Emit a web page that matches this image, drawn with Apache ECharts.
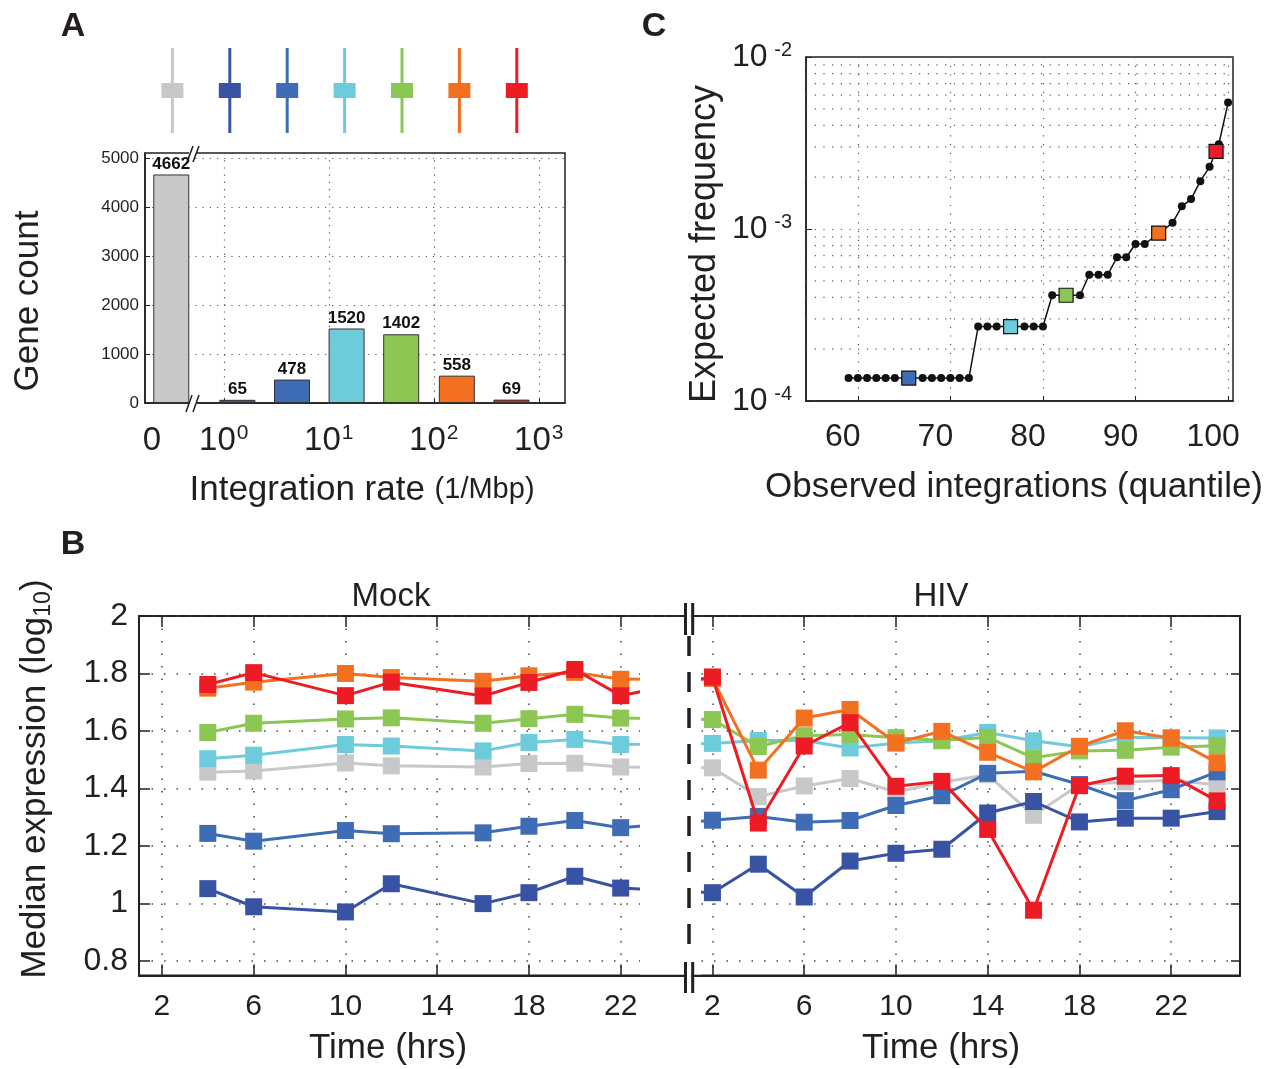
<!DOCTYPE html>
<html><head><meta charset="utf-8">
<script src="https://cdn.jsdelivr.net/npm/echarts@6/dist/echarts.min.js"></script>
<style>html,body{margin:0;padding:0;background:#fff}#c{width:1282px;height:1069px}</style>
</head><body><div id="c"></div>
<script>
const FONT = '"Liberation Sans", Arial, Helvetica, sans-serif';
const INK = '#231f20';

// ---------- Panel A data ----------
const rateBinLog = [-0.5, 0.13, 0.65, 1.17, 1.69, 2.22, 2.74];   // bin centre, log10(1/Mbp); first bin = zero rate
const geneCounts = [4662, 65, 478, 1520, 1402, 558, 69];
const rateTickLog = [0, 1, 2, 3];
const zeroRateLabelPos = -0.685;
const classIds = [0, 1, 2, 3, 4, 5, 6];
const classColors = ['#c7c8ca', '#3953a4', '#3e6db5', '#6dcbdb', '#8cc653', '#f37021', '#ed1c24'];

// ---------- Panel B data ----------
const mockHours = [4, 6, 10, 12, 16, 18, 20, 22];
const hivHours = [2, 4, 6, 8, 10, 12, 14, 16, 18, 20, 22, 24];
const timeTicks = [2, 6, 10, 14, 18, 22];
const exprTicks = [0.8, 1.0, 1.2, 1.4, 1.6, 1.8, 2.0];
const mockGray     = [1.457, 1.461, 1.489, 1.479, 1.475, 1.487, 1.488, 1.475];
const mockDarkBlue = [1.052, 0.989, 0.971, 1.069, 1.000, 1.038, 1.095, 1.054];
const mockBlue     = [1.244, 1.217, 1.254, 1.243, 1.246, 1.269, 1.289, 1.264];
const mockCyan     = [1.504, 1.516, 1.553, 1.548, 1.531, 1.560, 1.571, 1.553];
const mockGreen    = [1.595, 1.627, 1.642, 1.646, 1.627, 1.643, 1.658, 1.645];
const mockOrange   = [1.749, 1.770, 1.800, 1.786, 1.773, 1.792, 1.804, 1.780];
const mockRed      = [1.762, 1.803, 1.723, 1.770, 1.722, 1.769, 1.814, 1.723];
const hivGray      = [1.472, 1.372, 1.409, 1.435, 1.388, 1.422, 1.448, 1.307, 1.413, 1.423, 1.429, 1.413];
const hivDarkBlue  = [1.038, 1.137, 1.023, 1.148, 1.175, 1.189, 1.315, 1.355, 1.284, 1.297, 1.297, 1.320];
const hivBlue      = [1.290, 1.303, 1.283, 1.289, 1.341, 1.375, 1.453, 1.460, 1.414, 1.358, 1.396, 1.458];
const hivCyan      = [1.557, 1.567, 1.567, 1.541, 1.558, 1.566, 1.595, 1.566, 1.545, 1.578, 1.577, 1.576];
const hivGreen     = [1.640, 1.546, 1.584, 1.588, 1.577, 1.567, 1.578, 1.507, 1.531, 1.533, 1.544, 1.549];
const hivOrange    = [1.783, 1.464, 1.645, 1.675, 1.559, 1.599, 1.526, 1.458, 1.547, 1.601, 1.575, 1.490];
const hivRed       = [1.788, 1.280, 1.548, 1.629, 1.408, 1.425, 1.258, 0.977, 1.410, 1.443, 1.445, 1.357];

// ---------- Panel C data ----------
const obsQuantile = [59, 60, 61, 62, 63, 64, 67, 68, 69, 70, 71, 72,
                     73, 74, 75, 78, 79, 80, 81, 84, 85, 86, 87, 88, 89, 90, 91,
                     94, 95, 96, 97, 98, 99, 100];
const expFreq = [1.36e-4, 1.36e-4, 1.36e-4, 1.36e-4, 1.36e-4, 1.36e-4, 1.36e-4, 1.36e-4, 1.36e-4, 1.36e-4, 1.36e-4, 1.36e-4,
                 2.71e-4, 2.71e-4, 2.71e-4, 2.71e-4, 2.71e-4, 2.71e-4, 4.12e-4, 4.12e-4, 5.42e-4, 5.42e-4, 5.42e-4, 6.85e-4, 6.85e-4, 8.18e-4, 8.18e-4,
                 1.086e-3, 1.355e-3, 1.493e-3, 1.896e-3, 2.30e-3, 3.11e-3, 5.43e-3];
const classQuantile = [65.5, 76.5, 82.5, 92.5, 98.7];
const classFreq = [1.36e-4, 2.71e-4, 4.12e-4, 9.47e-4, 2.83e-3];
const classOfMarker = [2, 3, 4, 5, 6];
const quantileTicks = [60, 70, 80, 90, 100];
const freqMinorTicks = [2e-4, 3e-4, 4e-4, 5e-4, 6e-4, 7e-4, 8e-4, 9e-4, 2e-3, 3e-3, 4e-3, 5e-3, 6e-3, 7e-3, 8e-3, 9e-3];

const HIV_OFFSET = 24; // HIV hours are drawn after the axis break
const mockSets = [mockGray, mockDarkBlue, mockBlue, mockCyan, mockGreen, mockOrange, mockRed];
const hivSets = [hivGray, hivDarkBlue, hivBlue, hivCyan, hivGreen, hivOrange, hivRed];

const dotted = (c, w, d) => ({ show: true, lineStyle: { color: c, width: w, type: d } });
const supRich = (big, small) => ({
  b: { fontFamily: FONT, fontSize: big, color: INK, lineHeight: big + 2 },
  s: { fontFamily: FONT, fontSize: small, color: INK, verticalAlign: 'top', lineHeight: small, padding: [0, 0, 0, 1] }
});

const bSeries = classIds.map(k => ({
  type: 'line', xAxisIndex: 3, yAxisIndex: 3,
  data: mockHours.map((h, i) => [h, mockSets[k][i]]).concat(hivHours.map((h, i) => [h + HIV_OFFSET, hivSets[k][i]])),
  symbol: 'rect', symbolSize: 17, showSymbol: true,
  lineStyle: { color: classColors[k], width: 3 },
  itemStyle: { color: classColors[k], opacity: 1 },
  z: 3 + k * 0.01, silent: true
}));

const option = {
  animation: false,
  backgroundColor: '#fff',
  textStyle: { fontFamily: FONT },
  grid: [
    { left: 145, top: 153, width: 420, height: 250, show: true, borderColor: INK, borderWidth: 1.5, outerBoundsMode: 'none' },
    { left: 143.7, top: 48, width: 401.8, height: 85, outerBoundsMode: 'none' },
    { left: 806, top: 57, width: 427, height: 344, show: true, borderColor: INK, borderWidth: 1.5, outerBoundsMode: 'none' },
    { left: 139, top: 616, width: 1101, height: 359.5, show: true, borderColor: INK, borderWidth: 2, outerBoundsMode: 'none' }
  ],
  xAxis: [
    { gridIndex: 0, type: 'value', min: -0.75, max: 3.25,
      axisLine: { show: true, onZero: false, lineStyle: { color: INK, width: 1.5 } },
      axisTick: { show: true, inside: true, length: 4, customValues: rateTickLog, lineStyle: { color: INK } },
      axisLabel: { customValues: [zeroRateLabelPos].concat(rateTickLog), margin: 20, rich: supRich(33, 21),
        formatter: v => v < -0.5 ? '{b|0}' : '{b|10}{s|' + Math.round(v) + '}' },
      splitLine: dotted('#555', 1.2, [1.2, 6]) },
    { gridIndex: 1, type: 'category', data: classIds, show: false, boundaryGap: true },
    { gridIndex: 2, type: 'value', min: 54.4, max: 100.53,
      axisLine: { show: true, onZero: false, lineStyle: { color: INK, width: 1.5 } },
      axisTick: { show: true, inside: true, length: 5, customValues: quantileTicks, lineStyle: { color: INK } },
      axisLabel: { customValues: quantileTicks, margin: 20, fontSize: 32, color: INK, fontFamily: FONT, padding: [0, 30, 0, 0] },
      splitLine: dotted('#555', 1.2, [1.2, 7.5]) },
    { gridIndex: 3, type: 'value', min: 1, max: 49,
      axisLine: { show: true, onZero: false, lineStyle: { color: INK, width: 2 } },
      axisTick: { show: true, inside: true, length: 11, customValues: timeTicks.concat(timeTicks.map(t => t + HIV_OFFSET)), lineStyle: { color: INK, width: 1.5 } },
      axisLabel: { customValues: timeTicks.concat(timeTicks.map(t => t + HIV_OFFSET)), margin: 16, fontSize: 30, color: INK, fontFamily: FONT,
        formatter: v => String(v > HIV_OFFSET ? v - HIV_OFFSET : v) },
      splitLine: dotted('#444', 1.5, [1.5, 11]) },
    { gridIndex: 3, type: 'value', min: 1, max: 49, position: 'top',
      axisLine: { show: false, onZero: false },
      axisTick: { show: true, inside: true, length: 11, customValues: timeTicks.concat(timeTicks.map(t => t + HIV_OFFSET)), lineStyle: { color: INK, width: 1.5 } },
      axisLabel: { show: false }, splitLine: { show: false } }
  ],
  yAxis: [
    { gridIndex: 0, type: 'value', min: 0, max: 5100, interval: 1000,
      axisLine: { show: true, onZero: false, lineStyle: { color: INK, width: 1.5 } },
      axisTick: { show: true, inside: true, length: 5, lineStyle: { color: INK } },
      axisLabel: { fontSize: 17, color: INK, fontFamily: FONT, margin: 6, showMaxLabel: false,
        formatter: v => v > 5000 ? '' : String(v) },
      splitLine: dotted('#555', 1.2, [1.2, 6]) },
    { gridIndex: 1, type: 'value', min: 0, max: 1, show: false },
    { gridIndex: 2, type: 'log', logBase: 10, min: 1e-4, max: 1e-2,
      axisLine: { show: true, onZero: false, lineStyle: { color: INK, width: 1.5 } },
      axisTick: { show: true, inside: true, length: 6, lineStyle: { color: INK } },
      axisLabel: { margin: 14, rich: supRich(32, 20),
        formatter: v => '{b|10}{s| ' + Math.round(Math.log10(v)) + '}' },
      splitLine: dotted('#555', 1.2, [1.2, 7.5]) },
    { gridIndex: 3, type: 'value', min: 0.75, max: 2,
      axisLine: { show: true, onZero: false, lineStyle: { color: INK, width: 2 } },
      axisTick: { show: true, inside: true, length: 11, customValues: exprTicks, lineStyle: { color: INK, width: 1.5 } },
      axisLabel: { customValues: exprTicks, margin: 11, fontSize: 32, color: INK, fontFamily: FONT,
        formatter: v => String(Math.round(v * 10) / 10) },
      splitLine: dotted('#444', 1.5, [1.5, 11]) },
    { gridIndex: 3, type: 'value', min: 0.75, max: 2, position: 'right',
      axisLine: { show: false, onZero: false },
      axisTick: { show: true, inside: true, length: 9, customValues: exprTicks, lineStyle: { color: INK, width: 1.5 } },
      axisLabel: { show: false }, splitLine: { show: false } }
  ],
  series: [
    { type: 'bar', xAxisIndex: 0, yAxisIndex: 0, barWidth: 36, silent: true,
      data: rateBinLog.map((u, i) => ({ value: [u, geneCounts[i]], itemStyle: { color: classColors[i], borderColor: '#333', borderWidth: 1 } })),
      label: { show: true, position: 'top', distance: 2, fontFamily: FONT, fontSize: 17, fontWeight: 'bold', color: '#111',
        formatter: p => String(p.value[1]) } },
    { type: 'custom', xAxisIndex: 1, yAxisIndex: 1, silent: true,
      data: classIds.map(k => [k]),
      encode: { x: 0 },
      renderItem: (params, api) => {
        const k = api.value(0);
        const top = api.coord([k, 1]), bot = api.coord([k, 0]), mid = api.coord([k, 0.5]);
        const c = classColors[params.dataIndex];
        return { type: 'group', children: [
          { type: 'line', shape: { x1: top[0], y1: top[1], x2: bot[0], y2: bot[1] }, style: { stroke: c, lineWidth: 3 } },
          { type: 'rect', shape: { x: mid[0] - 11, y: mid[1] - 7.5, width: 22, height: 15 }, style: { fill: c } }
        ] };
      } },
    // minor log gridlines of panel C
    { type: 'custom', xAxisIndex: 2, yAxisIndex: 2, silent: true, z: 1,
      data: freqMinorTicks.map(v => [60, v]),
      encode: { x: 0, y: 1 },
      renderItem: (params, api) => {
        const p = api.coord([api.value(0), api.value(1)]);
        const cs = params.coordSys;
        return { type: 'line', shape: { x1: cs.x, y1: p[1], x2: cs.x + cs.width, y2: p[1] },
          style: { stroke: '#555', lineWidth: 1.2, lineDash: [1.2, 7.5] } };
      } },
    { type: 'line', xAxisIndex: 2, yAxisIndex: 2, silent: true,
      data: obsQuantile.map((q, i) => [q, expFreq[i]]),
      symbol: 'circle', symbolSize: 8, showSymbol: true,
      lineStyle: { color: '#111', width: 1.5 }, itemStyle: { color: '#111', opacity: 1 } },
    { type: 'scatter', xAxisIndex: 2, yAxisIndex: 2, silent: true, z: 4,
      data: classQuantile.map((q, i) => ({ value: [q, classFreq[i]], itemStyle: { color: classColors[classOfMarker[i]], opacity: 1 } })),
      symbol: 'rect', symbolSize: 14,
      itemStyle: { borderColor: '#111', borderWidth: 1.2, opacity: 1 } }
  ].concat(bSeries),
  graphic: [
    // axis break in B
    { type: 'rect', z: 100, shape: { x: 640, y: 617.5, width: 61, height: 357 }, style: { fill: '#fff' } },
    { type: 'line', z: 101, shape: { x1: 689, y1: 636, x2: 689, y2: 958 }, style: { stroke: INK, lineWidth: 3.5, lineDash: [20, 16] } },
    { type: 'rect', z: 101, shape: { x: 686.8, y: 610, width: 4.6, height: 12 }, style: { fill: '#fff' } },
    { type: 'rect', z: 101, shape: { x: 686.8, y: 969, width: 4.6, height: 12 }, style: { fill: '#fff' } },
    { type: 'line', z: 102, shape: { x1: 685.5, y1: 603, x2: 685.5, y2: 635 }, style: { stroke: INK, lineWidth: 3 } },
    { type: 'line', z: 102, shape: { x1: 692.7, y1: 603, x2: 692.7, y2: 635 }, style: { stroke: INK, lineWidth: 3 } },
    { type: 'line', z: 102, shape: { x1: 685.5, y1: 962, x2: 685.5, y2: 993 }, style: { stroke: INK, lineWidth: 3 } },
    { type: 'line', z: 102, shape: { x1: 692.7, y1: 962, x2: 692.7, y2: 993 }, style: { stroke: INK, lineWidth: 3 } },
    // axis break in A
    { type: 'rect', z: 100, shape: { x: 189, y: 150, width: 8, height: 6 }, style: { fill: '#fff' } },
    { type: 'line', z: 101, shape: { x1: 187, y1: 162, x2: 193, y2: 146 }, style: { stroke: INK, lineWidth: 1.5 } },
    { type: 'line', z: 101, shape: { x1: 193, y1: 162, x2: 199, y2: 146 }, style: { stroke: INK, lineWidth: 1.5 } },
    { type: 'rect', z: 100, shape: { x: 189, y: 400, width: 8, height: 6 }, style: { fill: '#fff' } },
    { type: 'line', z: 101, shape: { x1: 186, y1: 412, x2: 192, y2: 395 }, style: { stroke: INK, lineWidth: 1.5 } },
    { type: 'line', z: 101, shape: { x1: 193, y1: 412, x2: 199, y2: 395 }, style: { stroke: INK, lineWidth: 1.5 } },
    // panel letters
    { type: 'text', x: 73, y: 27, style: { text: 'A', font: 'bold 34px ' + FONT, fill: INK, align: 'center', verticalAlign: 'middle' } },
    { type: 'text', x: 654, y: 27, style: { text: 'C', font: 'bold 34px ' + FONT, fill: INK, align: 'center', verticalAlign: 'middle' } },
    { type: 'text', x: 73, y: 545, style: { text: 'B', font: 'bold 34px ' + FONT, fill: INK, align: 'center', verticalAlign: 'middle' } },
    // axis titles
    { type: 'text', x: 28, y: 301, rotation: Math.PI / 2, style: { text: 'Gene count', font: '35px ' + FONT, fill: INK, align: 'center', verticalAlign: 'middle' } },
    { type: 'text', x: 362, y: 490, style: { text: '{a|Integration rate }{b|(1/Mbp)}', align: 'center', verticalAlign: 'middle',
        rich: { a: { fontFamily: FONT, fontSize: 35, fill: INK }, b: { fontFamily: FONT, fontSize: 29, fill: INK } } } },
    { type: 'text', x: 705, y: 244, rotation: Math.PI / 2, style: { text: 'Expected frequency', font: '36px ' + FONT, fill: INK, align: 'center', verticalAlign: 'middle' } },
    { type: 'text', x: 1014, y: 487, style: { text: 'Observed integrations (quantile)', font: '35px ' + FONT, fill: INK, align: 'center', verticalAlign: 'middle' } },
    { type: 'text', x: 35, y: 779, rotation: Math.PI / 2, style: { text: '{a|Median expression (log}{b|10}{a|)}', align: 'center', verticalAlign: 'middle',
        rich: { a: { fontFamily: FONT, fontSize: 35, fill: INK, lineHeight: 40 }, b: { fontFamily: FONT, fontSize: 23, fill: INK, verticalAlign: 'bottom', lineHeight: 40 } } } },
    { type: 'text', x: 391, y: 597, style: { text: 'Mock', font: '33px ' + FONT, fill: INK, align: 'center', verticalAlign: 'middle' } },
    { type: 'text', x: 941, y: 597, style: { text: 'HIV', font: '33px ' + FONT, fill: INK, align: 'center', verticalAlign: 'middle' } },
    { type: 'text', x: 388, y: 1048, style: { text: 'Time (hrs)', font: '35px ' + FONT, fill: INK, align: 'center', verticalAlign: 'middle' } },
    { type: 'text', x: 941, y: 1048, style: { text: 'Time (hrs)', font: '35px ' + FONT, fill: INK, align: 'center', verticalAlign: 'middle' } }
  ]
};
const chart = echarts.init(document.getElementById('c'), null, { renderer: 'canvas' });
chart.setOption(option);
</script>
</body></html>
